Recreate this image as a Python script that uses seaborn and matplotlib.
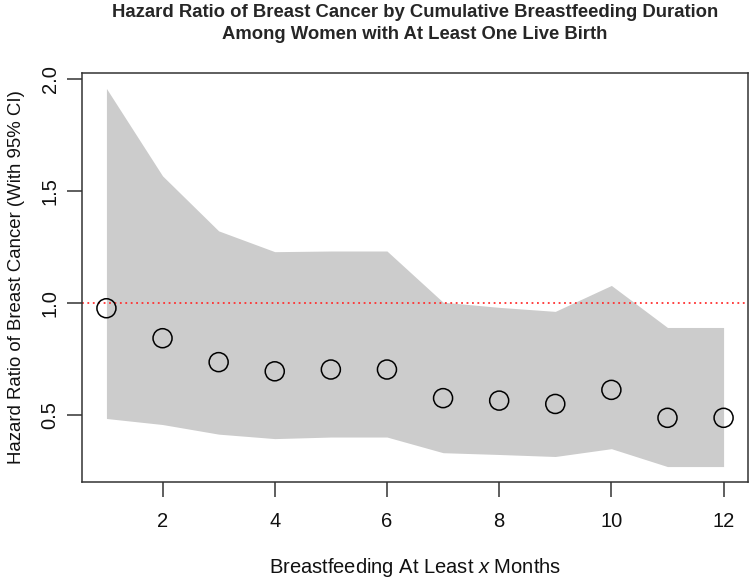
import matplotlib
matplotlib.use("Agg")
import matplotlib.pyplot as plt
import seaborn as sns
import pandas as pd

months = [1, 2, 3, 4, 5, 6, 7, 8, 9, 10, 11, 12]
hazard_ratio = [0.976, 0.842, 0.735, 0.694, 0.702, 0.702, 0.574, 0.563, 0.548, 0.611, 0.486, 0.486]
ci_lower = [0.483, 0.456, 0.413, 0.393, 0.400, 0.400, 0.330, 0.322, 0.313, 0.348, 0.268, 0.268]
ci_upper = [1.959, 1.568, 1.322, 1.229, 1.232, 1.232, 1.003, 0.980, 0.962, 1.078, 0.890, 0.890]
x_ticks = [2, 4, 6, 8, 10, 12]
y_ticks = [0.5, 1.0, 1.5, 2.0]
y_tick_labels = ["0.5", "1.0", "1.5", "2.0"]

df = pd.DataFrame({"month": months, "hr": hazard_ratio, "lo": ci_lower, "hi": ci_upper})

sns.set_style("white")
plt.rcParams["font.family"] = ["Liberation Sans", "DejaVu Sans"]
plt.rcParams["mathtext.fontset"] = "custom"
plt.rcParams["mathtext.it"] = "Liberation Sans:italic"
plt.rcParams["mathtext.rm"] = "Liberation Sans"

fig = plt.figure(figsize=(7.5, 5.8), dpi=100)
ax = fig.add_axes([0.109, 0.1695, 0.8887, 0.7041])

ax.fill_between(df["month"], df["lo"], df["hi"], color="#CCCCCC", linewidth=0, zorder=1)
ax.axhline(1.0, color="#FF3030", linestyle=(0, (1, 2)), linewidth=1.3, zorder=2)
sns.scatterplot(data=df, x="month", y="hr", ax=ax, s=19**2 * 0.52, facecolors="none",
                edgecolor="black", linewidth=1.1, zorder=3, legend=False)
for coll in ax.collections[1:]:
    coll.set_facecolor("none")
    coll.set_edgecolor("black")

xr = 11 * 0.04
ax.set_xlim(1 - xr, 12 + xr)
yr = (1.959 - 0.268) * 0.04
ax.set_ylim(0.268 - yr, 1.959 + yr)

ax.set_xticks(x_ticks)
ax.set_xticklabels([str(t) for t in x_ticks])
ax.set_yticks(y_ticks)
ax.set_yticklabels(y_tick_labels, rotation=90, va="center")

for sp in ax.spines.values():
    sp.set_color("#333333")
    sp.set_linewidth(1.1)
    sp.set_visible(True)

ax.tick_params(axis="both", which="both", direction="out", length=11, width=1.1,
               color="#333333", labelsize=14.5, labelcolor="#111111",
               bottom=True, left=True)
ax.tick_params(axis="x", pad=11)
ax.tick_params(axis="y", pad=5)

ax.set_xlabel(r"Breastfeeding At Least $\mathit{x}$ Months", fontsize=14.5, labelpad=18, color="#111111")
ax.set_ylabel("Hazard Ratio of Breast Cancer (With 95% CI)", fontsize=13.4, labelpad=11.5, color="#111111")
ax.set_title("Hazard Ratio of Breast Cancer by Cumulative Breastfeeding Duration\nAmong Women with At Least One Live Birth",
             fontsize=13.3, fontweight="bold", pad=25, linespacing=1.38)

fig.savefig("out.png", dpi=100, facecolor="white")
